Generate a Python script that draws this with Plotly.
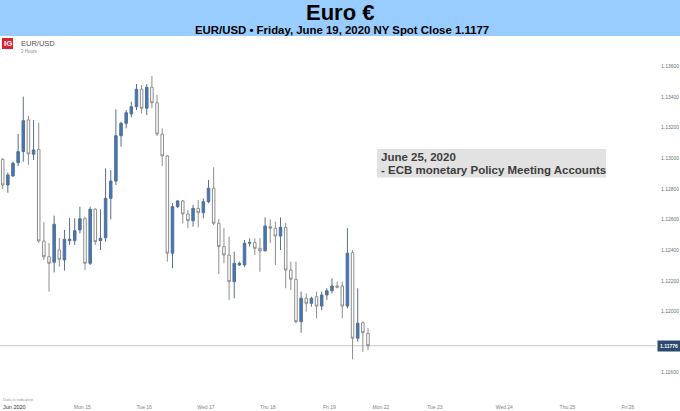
import plotly.graph_objects as go

# ---- data (EUR/USD, 2-hour candles) ----
OPEN = [1.12993, 1.12825, 1.12884, 1.12971, 1.13043, 1.13250, 1.13026, 1.13058, 1.12460, 1.12357,
        1.12321, 1.12401, 1.12336, 1.12462, 1.12462, 1.12532, 1.12605, 1.12314, 1.12667, 1.12462,
        1.12481, 1.12738, 1.12851, 1.13147, 1.13228, 1.13289, 1.13336, 1.13450, 1.13326, 1.13463,
        1.13362, 1.13158, 1.13015, 1.12380, 1.12684, 1.12721, 1.12636, 1.12592, 1.12673, 1.12644,
        1.12716, 1.12804, 1.12575, 1.12423, 1.12368, 1.12194, 1.12303, 1.12303, 1.12445, 1.12449,
        1.12412, 1.12396, 1.12553, 1.12543, 1.12492, 1.12549, 1.12270, 1.12210, 1.11933, 1.12086,
        1.12053, 1.12096, 1.12035, 1.12107, 1.12135, 1.12166, 1.12166, 1.12035, 1.12383, 1.11825,
        1.11926, 1.11857]
HIGH = [1.13001, 1.12906, 1.12977, 1.13158, 1.13402, 1.13276, 1.13250, 1.13232, 1.12584, 1.12447,
        1.12625, 1.12479, 1.12532, 1.12610, 1.12608, 1.12684, 1.12618, 1.12684, 1.12673, 1.12667,
        1.12934, 1.12923, 1.13319, 1.13238, 1.13315, 1.13369, 1.13484, 1.13478, 1.13484, 1.13537,
        1.13413, 1.13195, 1.13021, 1.12706, 1.12727, 1.12727, 1.12662, 1.12695, 1.12727, 1.12738,
        1.12858, 1.12941, 1.12603, 1.12543, 1.12488, 1.12390, 1.12325, 1.12466, 1.12477, 1.12477,
        1.12479, 1.12614, 1.12601, 1.12586, 1.12614, 1.12579, 1.12325, 1.12325, 1.12129, 1.12118,
        1.12096, 1.12129, 1.12129, 1.12151, 1.12216, 1.12194, 1.12194, 1.12543, 1.12401, 1.12151,
        1.11933, 1.11890]
LOW = [1.12799, 1.12775, 1.12879, 1.12949, 1.12977, 1.12956, 1.12988, 1.12449, 1.12336, 1.12129,
       1.12255, 1.12292, 1.12266, 1.12434, 1.12434, 1.12510, 1.12270, 1.12303, 1.12434, 1.12401,
       1.12455, 1.12601, 1.12825, 1.13075, 1.13195, 1.13267, 1.13315, 1.13293, 1.13282, 1.13326,
       1.13145, 1.12949, 1.12325, 1.12282, 1.12675, 1.12575, 1.12543, 1.12553, 1.12549, 1.12608,
       1.12706, 1.12564, 1.12244, 1.12314, 1.12075, 1.12086, 1.12297, 1.12292, 1.12423, 1.12368,
       1.12259, 1.12390, 1.12445, 1.12303, 1.12401, 1.12151, 1.12140, 1.11923, 1.11861, 1.11998,
       1.12031, 1.11955, 1.12009, 1.12075, 1.12118, 1.12151, 1.11955, 1.12020, 1.11688, 1.11803,
       1.11737, 1.11748]
CLOSE = [1.12825, 1.12891, 1.12967, 1.13043, 1.13245, 1.13028, 1.13054, 1.12460, 1.12357, 1.12314,
         1.12569, 1.12340, 1.12471, 1.12471, 1.12527, 1.12605, 1.12314, 1.12667, 1.12455, 1.12477,
         1.12738, 1.12851, 1.13147, 1.13228, 1.13297, 1.13336, 1.13450, 1.13326, 1.13463, 1.13362,
         1.13158, 1.13015, 1.12380, 1.12684, 1.12721, 1.12636, 1.12592, 1.12673, 1.12644, 1.12716,
         1.12804, 1.12575, 1.12423, 1.12368, 1.12194, 1.12314, 1.12314, 1.12445, 1.12449, 1.12412,
         1.12395, 1.12558, 1.12543, 1.12492, 1.12549, 1.12270, 1.12210, 1.11933, 1.12086, 1.12053,
         1.12086, 1.12035, 1.12107, 1.12135, 1.12166, 1.12158, 1.12035, 1.12380, 1.11825, 1.11923,
         1.11861, 1.11776]
BAR_INDEX = list(range(len(OPEN)))

DAY_LABELS = ["Mon 15", "Tue 16", "Wed 17", "Thu 18", "Fri 19",
              "Mon 22", "Tue 23", "Wed 24", "Thu 25", "Fri 26"]
DAY_POS = [15.5, 27.5, 39.5, 51.5, 63.5, 73.5, 84.0, 97.5, 109.75, 121.5]

PRICE_TICKS = [1.116, 1.120, 1.122, 1.124, 1.126, 1.128, 1.130, 1.132, 1.134, 1.136]
PRICE_TICK_TEXT = ["1.11600", "1.12000", "1.12200", "1.12400", "1.12600",
                   "1.12800", "1.13000", "1.13200", "1.13400", "1.13600"]
LAST_CLOSE = 1.11776

TITLE = "Euro €"
SUBTITLE = "EUR/USD • Friday, June 19, 2020 NY Spot Close 1.1177"
NOTE_LINE1 = "June 25, 2020"
NOTE_LINE2 = "- ECB monetary Policy Meeting Accounts"

# ---- layout geometry ----
W, H = 680, 411
ML, MR, MT, MB = 0, 24, 36, 11
PW, PH = W - ML - MR, H - MT - MB


def px(x):
    return (x - ML) / PW


def py(y):
    return (H - MB - y) / PH


FONT = "Liberation Sans, Arial, sans-serif"

fig = go.Figure()
fig.add_trace(go.Candlestick(
    x=BAR_INDEX, open=OPEN, high=HIGH, low=LOW, close=CLOSE,
    increasing=dict(line=dict(color="#56708f", width=1), fillcolor="#3b78c2"),
    decreasing=dict(line=dict(color="#8e8e8e", width=1), fillcolor="#ffffff"),
    whiskerwidth=0, showlegend=False, hoverinfo="skip",
))

shapes = [
    # title banner
    dict(type="rect", xref="paper", yref="paper", x0=px(0), x1=px(W), y0=py(36), y1=py(0),
         fillcolor="#99ccff", line=dict(width=0), layer="below"),
    # last price line
    dict(type="line", xref="paper", yref="y", x0=0, x1=1, y0=LAST_CLOSE, y1=LAST_CLOSE,
         line=dict(color="#c9c9c9", width=1), layer="below"),
    # note box
    dict(type="rect", xref="paper", yref="paper", x0=px(377), x1=px(606), y0=py(177.5), y1=py(149),
         fillcolor="#e2e2e2", line=dict(width=0), layer="below"),
    # IG logo
    dict(type="rect", xref="paper", yref="paper", x0=px(2), x1=px(13), y0=py(49), y1=py(38),
         fillcolor="#d9232e", line=dict(width=0)),
]

annotations = [
    dict(text="<b>" + TITLE + "</b>", xref="paper", yref="paper", x=px(340), y=py(12.5),
         showarrow=False, font=dict(family=FONT, size=22, color="#000000"),
         xanchor="center", yanchor="middle"),
    dict(text="<b>" + SUBTITLE + "</b>", xref="paper", yref="paper", x=px(342), y=py(29.5),
         showarrow=False, font=dict(family=FONT, size=11.4, color="#000000"),
         xanchor="center", yanchor="middle"),
    dict(text="<b>IG</b>", xref="paper", yref="paper", x=px(7.5), y=py(43.5),
         showarrow=False, font=dict(family=FONT, size=8, color="#ffffff"),
         xanchor="center", yanchor="middle"),
    dict(text="EUR/USD", xref="paper", yref="paper", x=px(19), y=py(43),
         showarrow=False, font=dict(family=FONT, size=7.5, color="#555555"),
         xanchor="left", yanchor="middle"),
    dict(text="2 Hours", xref="paper", yref="paper", x=px(19), y=py(51.5),
         showarrow=False, font=dict(family=FONT, size=4.5, color="#888888"),
         xanchor="left", yanchor="middle"),
    dict(text="<b>" + NOTE_LINE1 + "</b>", xref="paper", yref="paper", x=px(379), y=py(157),
         showarrow=False, font=dict(family=FONT, size=11.5, color="#3d3d3d"),
         xanchor="left", yanchor="middle"),
    dict(text="<b>" + NOTE_LINE2 + "</b>", xref="paper", yref="paper", x=px(379), y=py(170),
         showarrow=False, font=dict(family=FONT, size=11.5, color="#3d3d3d"),
         xanchor="left", yanchor="middle"),
    dict(text="<b>%.5f</b>" % LAST_CLOSE, xref="paper", yref="y", x=1, y=LAST_CLOSE,
         xshift=1, showarrow=False, font=dict(family=FONT, size=5, color="#ffffff"),
         xanchor="left", yanchor="middle", bgcolor="#2c4a6e", borderpad=2),
    dict(text="Data is indicative", xref="paper", yref="paper", x=px(1), y=py(399),
         showarrow=False, font=dict(family=FONT, size=4, color="#999999"),
         xanchor="left", yanchor="middle"),
    dict(text="Jun 2020", xref="paper", yref="paper", x=px(1), y=py(407),
         showarrow=False, font=dict(family=FONT, size=5.5, color="#333333"),
         xanchor="left", yanchor="middle"),
]

# y range so 1.136 sits at ~66px and 0.002 spans ~30.6px
SCALE = 0.002 / 30.64
Y_TOP = 1.136 + (66.3 - MT) * SCALE
Y_BOT = 1.136 - (H - MB - 66.3) * SCALE
X0 = -2.7 / 5.145
X1 = (PW - 2.7) / 5.145

fig.update_layout(
    template="none",
    width=W, height=H,
    margin=dict(l=ML, r=MR, t=MT, b=MB, pad=0, autoexpand=False),
    paper_bgcolor="#ffffff", plot_bgcolor="#ffffff",
    shapes=shapes, annotations=annotations,
    xaxis=dict(range=[X0, X1], showgrid=False, zeroline=False, showline=False,
               automargin=False, ticklabelstandoff=3,
               tickmode="array", tickvals=DAY_POS, ticktext=DAY_LABELS, ticks="",
               tickfont=dict(family=FONT, size=5, color="#808080"),
               rangeslider=dict(visible=False), fixedrange=True),
    yaxis=dict(range=[Y_BOT, Y_TOP], side="right", showgrid=False, zeroline=False,
               showline=False, automargin=False, ticklabelstandoff=4,
               tickmode="array", tickvals=PRICE_TICKS,
               ticktext=PRICE_TICK_TEXT, ticks="",
               tickfont=dict(family=FONT, size=5, color="#707070"), fixedrange=True),
)

fig.write_html(
    "out.html",
    config={"displayModeBar": False},
    post_script="document.body.style.margin='0';document.body.style.padding='0';",
)
